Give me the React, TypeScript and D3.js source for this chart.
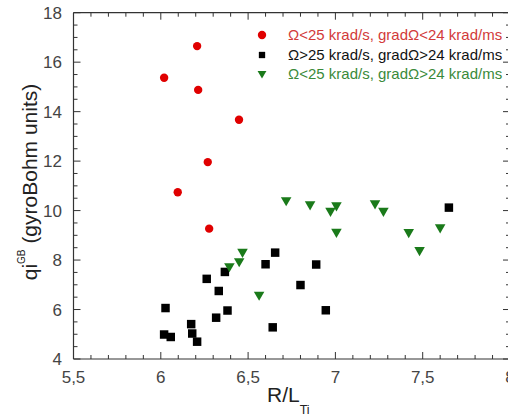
import React from "react";
import * as d3 from "d3";

const redX = [6.019, 6.208, 6.214, 6.448, 6.269, 6.097, 6.277];
const redY = [15.37, 16.65, 14.88, 13.67, 11.96, 10.74, 9.27];

const blackX = [6.027, 6.019, 6.057, 6.174, 6.18, 6.208, 6.263, 6.332, 6.317, 6.367, 6.382, 6.6, 6.655, 6.8, 6.89, 6.945, 6.641, 7.65];
const blackY = [6.06, 4.99, 4.89, 5.41, 5.03, 4.7, 7.24, 6.75, 5.67, 7.52, 5.96, 7.83, 8.3, 6.99, 7.82, 5.97, 5.28, 10.12];

const greenX = [6.718, 6.855, 6.972, 7.006, 7.006, 6.468, 6.449, 6.393, 6.563, 7.227, 7.275, 7.42, 7.482, 7.6];
const greenY = [10.42, 10.25, 9.99, 10.21, 9.14, 8.33, 7.95, 7.75, 6.6, 10.29, 9.99, 9.13, 8.4, 9.32];

const xTickLabels = ["5,5", "6", "6,5", "7", "7,5", "8"];
const xTickValues = [5.5, 6, 6.5, 7, 7.5, 8];
const yTickValues = [4, 6, 8, 10, 12, 14, 16, 18];

const legendLabels = [
  "Ω<25 krad/s, gradΩ<24 krad/ms",
  "Ω>25 krad/s, gradΩ>24 krad/ms",
  "Ω<25 krad/s, gradΩ>24 krad/ms",
];

const RED = "#e00000";
const BLACK = "#000000";
const GREEN = "#1a7a1a";
const AXIS = "#333333";
const FONT = "Arial, 'Liberation Sans', sans-serif";

export default function App() {
  const W = 508, H = 417;
  const x = d3.scaleLinear().domain([5.5, 8]).range([73.5, 510]);
  const y = d3.scaleLinear().domain([4, 18]).range([359, 12.7]);
  const [x0, x1] = x.range();
  const [yb, yt] = y.range();

  const xMinor = d3.range(5.5, 8.0001, 0.1);
  const yMinor = d3.range(4, 18.0001, 0.5);

  const tri = d3.symbol().type(d3.symbolTriangle).size(48)();
  const sq = d3.symbol().type(d3.symbolSquare).size(72)();
  const circ = d3.symbol().type(d3.symbolCircle).size(55)();

  const red = redX.map((v, i) => [v, redY[i]]);
  const black = blackX.map((v, i) => [v, blackY[i]]);
  const green = greenX.map((v, i) => [v, greenY[i]]);

  const legendColors = [RED, BLACK, GREEN];
  const legendText = ["#d23a3a", "#111111", "#3a8a3a"];
  const legendSymbols = [circ, d3.symbol().type(d3.symbolSquare).size(40)(), d3.symbol().type(d3.symbolTriangle).size(34)()];
  const legendY = [35, 55, 73.5];

  return (
    <svg width={W} height={H} style={{ position: "absolute", left: 0, top: 0, background: "#fff" }} fontFamily={FONT}>
      <rect x={0} y={0} width={W} height={H} fill="#fff" />
      {/* frame */}
      <g stroke={AXIS} strokeWidth={1.2} fill="none">
        <line x1={x0} x2={x1} y1={yb} y2={yb} />
        <line x1={x0} x2={x1} y1={yt} y2={yt} />
        <line x1={x0} x2={x0} y1={yt} y2={yb} />
        <line x1={x1} x2={x1} y1={yt} y2={yb} />
      </g>
      {/* ticks */}
      <g stroke={AXIS} strokeWidth={1}>
        {xMinor.map((v, i) => {
          const major = i % 5 === 0;
          const len = major ? 7 : 4;
          return (
            <g key={i}>
              <line x1={x(v)} x2={x(v)} y1={yb} y2={yb - len} />
              <line x1={x(v)} x2={x(v)} y1={yt} y2={yt + len} />
            </g>
          );
        })}
        {yMinor.map((v, i) => {
          const major = i % 4 === 0;
          const len = major ? 7 : 4;
          return (
            <g key={"y" + i}>
              <line x1={x0} x2={x0 + len} y1={y(v)} y2={y(v)} />
              <line x1={x1} x2={x1 - len} y1={y(v)} y2={y(v)} />
            </g>
          );
        })}
      </g>
      {/* tick labels */}
      <g fill="#444" fontSize={17}>
        {xTickValues.map((v, i) => (
          <text key={i} x={x(v)} y={yb + 24} textAnchor="middle">{xTickLabels[i]}</text>
        ))}
        {yTickValues.map((v) => (
          <text key={v} x={62} y={y(v) + 6} textAnchor="end">{v}</text>
        ))}
      </g>
      {/* axis titles */}
      <text x={267} y={402} fontSize={21} fill="#222">
        R/L<tspan fontSize={12.5} dy={12}>Ti</tspan>
      </text>
      <g transform="translate(37,182) rotate(-90)">
        <text x={0} y={0} fontSize={21} fill="#222" textAnchor="middle">
          qi<tspan fontSize={10} dy={-12}>GB</tspan><tspan dy={12}> (gyroBohm units)</tspan>
        </text>
      </g>
      {/* data */}
      {red.map((d, i) => (
        <path key={"r" + i} d={circ!} transform={`translate(${x(d[0])},${y(d[1])})`} fill={RED} />
      ))}
      {black.map((d, i) => (
        <path key={"b" + i} d={sq!} transform={`translate(${x(d[0])},${y(d[1])})`} fill={BLACK} />
      ))}
      {green.map((d, i) => (
        <path key={"g" + i} d={tri!} transform={`translate(${x(d[0])},${y(d[1])}) rotate(180)`} fill={GREEN} />
      ))}
      {/* legend */}
      {legendLabels.map((l, i) => (
        <g key={"l" + i}>
          <path d={legendSymbols[i]!} transform={`translate(262,${legendY[i]})${i === 2 ? " rotate(180)" : ""}`} fill={legendColors[i]} />
          <text x={288} y={legendY[i] + 5} fontSize={15} fill={legendText[i]}>{l}</text>
        </g>
      ))}
    </svg>
  );
}
